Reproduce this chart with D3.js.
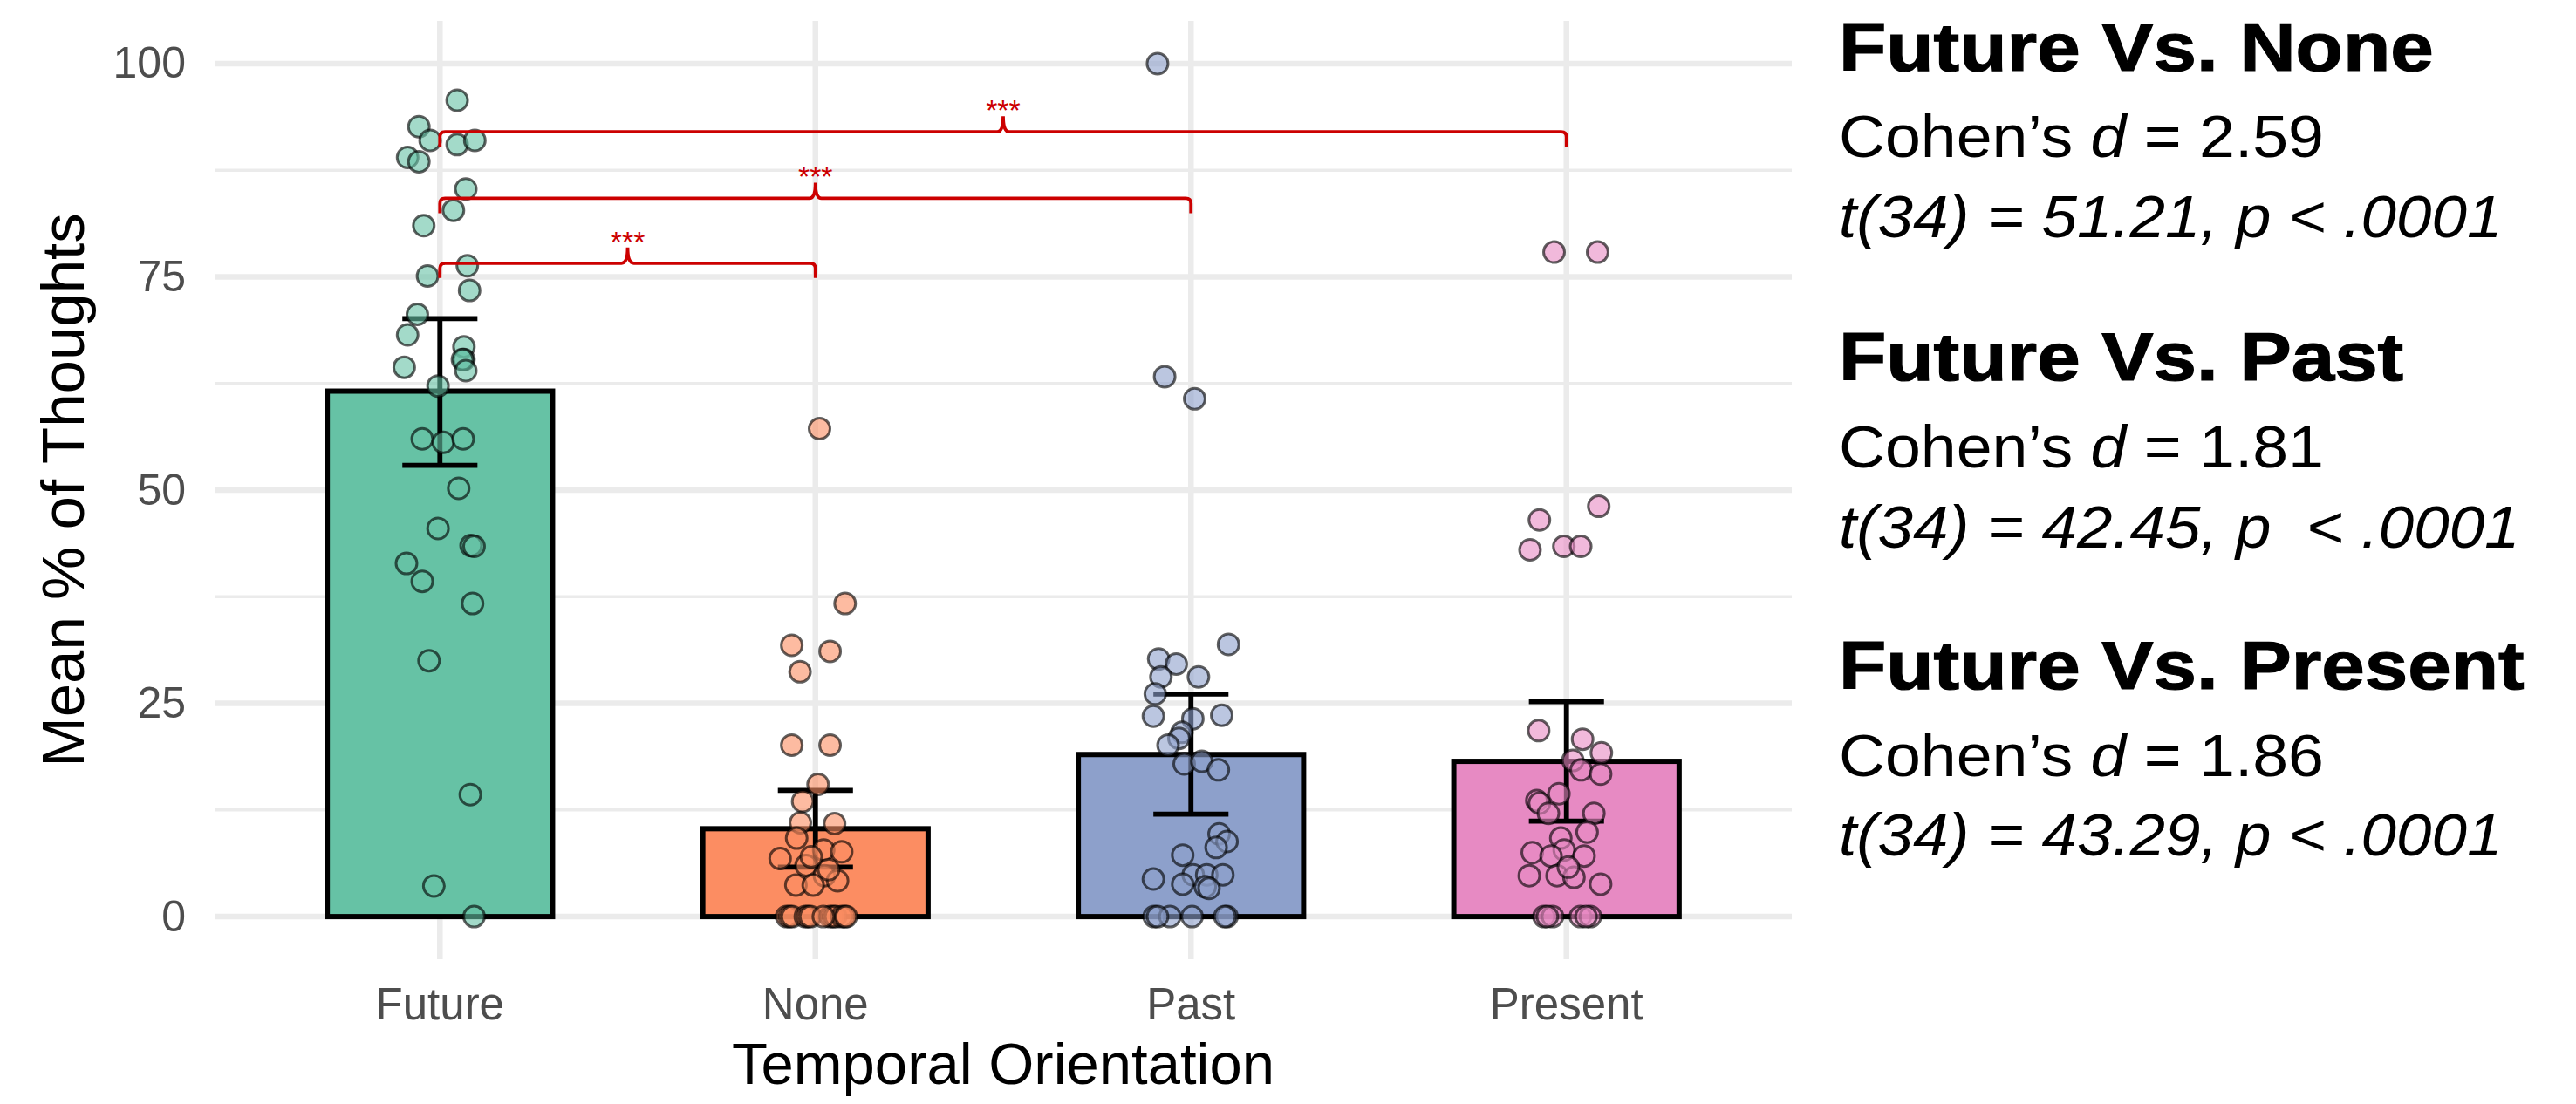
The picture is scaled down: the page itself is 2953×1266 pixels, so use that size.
<!DOCTYPE html>
<html>
<head>
<meta charset="utf-8">
<script src="https://cdn.jsdelivr.net/npm/d3@7"></script>
<style>
  body { margin: 0; background: #fff; }
  svg { display: block; font-family: "Liberation Sans", Arial, sans-serif; }
</style>
</head>
<body>
<div id="chart"></div>
<script>
// categories and summary values
const categories = ["Future", "None", "Past", "Present"];
const barColors = ["#66C2A5", "#FC8D62", "#8DA0CB", "#E78AC3"];
const meanPct = [61.6, 10.3, 19.0, 18.2];
const ciLow = [52.9, 5.8, 12.0, 11.2];
const ciHigh = [70.1, 14.8, 26.1, 25.2];

// individual participants (value, horizontal jitter in category units)
const futureVals = [95.7, 92.6, 91.0, 90.5, 91.0, 89.0, 88.5, 85.3, 82.8, 81.0, 76.3, 75.1, 73.4, 70.6, 68.2, 66.8, 65.3, 65.3, 64.0, 64.4, 62.2, 56.0, 55.6, 56.0, 50.2, 45.5, 43.5, 43.4, 41.4, 39.3, 36.7, 30.0, 14.3, 3.6, 0.0];
const futureJit = [0.046, -0.056, -0.026, 0.046, 0.093, -0.086, -0.056, 0.069, 0.036, -0.043, 0.073, -0.033, 0.079, -0.060, -0.086, 0.064, 0.064, 0.060, 0.069, -0.095, -0.005, -0.047, 0.009, 0.062, 0.050, -0.005, 0.083, 0.091, -0.089, -0.047, 0.087, -0.029, 0.081, -0.016, 0.091];
const noneVals = [57.2, 36.7, 31.8, 31.1, 28.7, 20.1, 20.1, 15.5, 13.5, 11.0, 10.9, 9.2, 7.8, 7.6, 6.8, 6.0, 4.8, 3.7, 3.7, 4.2, 5.5, 7.0, 0, 0, 0, 0, 0, 0, 0, 0, 0, 0, 0, 0, 0];
const noneJit = [0.011, 0.079, -0.063, 0.039, -0.041, -0.063, 0.039, 0.007, -0.034, -0.040, 0.051, -0.050, 0.022, 0.070, -0.094, -0.025, 0.024, -0.052, -0.006, 0.059, 0.035, -0.011, -0.077, -0.069, -0.062, -0.027, -0.020, -0.013, 0.039, 0.047, 0.054, 0.070, 0.078, 0.082, 0.021];
const pastVals = [100.0, 63.3, 60.7, 31.9, 30.2, 29.6, 28.1, 28.1, 26.1, 23.5, 23.2, 23.6, 21.6, 20.9, 20.1, 17.9, 18.2, 17.2, 9.7, 8.8, 8.1, 7.2, 4.9, 4.9, 4.9, 4.4, 3.8, 3.5, 3.3, 0, 0, 0, 0, 0, 0];
const pastJit = [-0.089, -0.070, 0.010, 0.100, -0.086, -0.039, -0.080, 0.020, -0.095, -0.100, 0.005, 0.082, -0.024, -0.032, -0.061, -0.018, 0.029, 0.073, 0.075, 0.096, 0.067, -0.022, 0.006, 0.042, 0.085, -0.100, -0.022, 0.038, 0.048, -0.098, -0.056, 0.003, 0.096, -0.089, 0.090];
const presentVals = [77.9, 77.9, 46.5, 48.1, 43.0, 43.4, 43.4, 21.8, 20.8, 19.2, 18.3, 17.2, 16.7, 14.4, 13.6, 13.3, 12.1, 12.1, 9.9, 9.2, 7.5, 7.8, 7.1, 7.1, 4.8, 4.8, 4.6, 3.8, 5.8, 0, 0, 0, 0, 0, 0];
const presentJit = [-0.033, 0.083, -0.072, 0.086, -0.097, -0.007, 0.038, -0.074, 0.043, 0.093, 0.017, 0.039, 0.091, -0.020, -0.079, -0.072, -0.048, 0.073, 0.055, -0.015, -0.091, -0.006, 0.047, -0.041, -0.099, -0.025, 0.020, 0.091, 0.005, -0.060, -0.037, 0.037, 0.064, -0.051, 0.052];

// significance brackets
const bracketTo = ["None", "Past", "Present"];
const bracketY = [76.6, 84.2, 92.0];
const bracketLabel = ["***", "***", "***"];

// axis ticks
const yMajor = [0, 25, 50, 75, 100];
const yMinor = [12.5, 37.5, 62.5, 87.5];

// side annotations
const comparisons = ["Future Vs. None", "Future Vs. Past", "Future Vs. Present"];
const cohenD = ["2.59", "1.81", "1.86"];
const tStats = ["t(34) = 51.21, p < .0001", "t(34) = 42.45, p  < .0001", "t(34) = 43.29, p < .0001"];

const width = 2953, height = 1266;
const panel = { left: 246, right: 2054, top: 24, bottom: 1100 };

const svg = d3.select("#chart").append("svg")
  .attr("width", width)
  .attr("height", height);

svg.append("rect").attr("width", width).attr("height", height).attr("fill", "#fff");

const x = d3.scaleBand()
  .domain(categories)
  .range([panel.left, panel.right])
  .paddingInner(0.4)
  .paddingOuter(0.3);
const cx = c => x(c) + x.bandwidth() / 2;

const y = d3.scaleLinear()
  .domain([-5, 105])
  .range([panel.bottom, panel.top]);

// grid
const grid = svg.append("g").attr("stroke", "#EBEBEB");
grid.selectAll(".minor").data(yMinor).join("line")
  .attr("x1", panel.left).attr("x2", panel.right)
  .attr("y1", d => y(d)).attr("y2", d => y(d))
  .attr("stroke-width", 3.5);
grid.selectAll(".major").data(yMajor).join("line")
  .attr("x1", panel.left).attr("x2", panel.right)
  .attr("y1", d => y(d)).attr("y2", d => y(d))
  .attr("stroke-width", 6.5);
grid.selectAll(".vert").data(categories).join("line")
  .attr("x1", d => cx(d)).attr("x2", d => cx(d))
  .attr("y1", panel.top).attr("y2", panel.bottom)
  .attr("stroke-width", 6.5);

// bars
svg.append("g").selectAll("rect").data(categories).join("rect")
  .attr("x", d => x(d))
  .attr("y", (d, i) => y(meanPct[i]))
  .attr("width", x.bandwidth())
  .attr("height", (d, i) => y(0) - y(meanPct[i]))
  .attr("fill", (d, i) => barColors[i])
  .attr("stroke", "#000")
  .attr("stroke-width", 6);

// error bars
const capW = x.step() * 0.1;
const eb = svg.append("g").attr("stroke", "#000").attr("stroke-width", 5.8).attr("fill", "none");
categories.forEach((c, i) => {
  const xc = cx(c);
  eb.append("line").attr("x1", xc).attr("x2", xc).attr("y1", y(ciLow[i])).attr("y2", y(ciHigh[i]));
  eb.append("line").attr("x1", xc - capW).attr("x2", xc + capW).attr("y1", y(ciLow[i])).attr("y2", y(ciLow[i]));
  eb.append("line").attr("x1", xc - capW).attr("x2", xc + capW).attr("y1", y(ciHigh[i])).attr("y2", y(ciHigh[i]));
});

// jittered points
const groups = [[futureVals, futureJit], [noneVals, noneJit], [pastVals, pastJit], [presentVals, presentJit]];
const points = [];
groups.forEach(([vals, jit], i) => {
  vals.forEach((v, k) => points.push({ cat: categories[i], color: barColors[i], v: v, j: jit[k] }));
});
svg.append("g").selectAll("circle").data(points).join("circle")
  .attr("cx", d => cx(d.cat) + d.j * x.step())
  .attr("cy", d => y(d.v))
  .attr("r", 12)
  .attr("fill", d => d.color)
  .attr("fill-opacity", 0.6)
  .attr("stroke", "#000")
  .attr("stroke-opacity", 0.62)
  .attr("stroke-width", 3);

// brackets
const red = "#CC0000";
const br = svg.append("g");
bracketTo.forEach((c, i) => {
  const x1 = cx("Future"), x2 = cx(c), xm = (x1 + x2) / 2, yl = y(bracketY[i]);
  const drop = 17, r = 6, notch = 18, nw = 7;
  const p = d3.path();
  p.moveTo(x1, yl + drop);
  p.lineTo(x1, yl + r);
  p.quadraticCurveTo(x1, yl, x1 + r, yl);
  p.lineTo(xm - nw, yl);
  p.quadraticCurveTo(xm, yl, xm, yl - notch);
  p.quadraticCurveTo(xm, yl, xm + nw, yl);
  p.lineTo(x2 - r, yl);
  p.quadraticCurveTo(x2, yl, x2, yl + r);
  p.lineTo(x2, yl + drop);
  br.append("path").attr("d", p.toString())
    .attr("fill", "none").attr("stroke", red).attr("stroke-width", 3.8);
  br.append("text")
    .attr("x", xm).attr("y", yl - 13)
    .attr("text-anchor", "middle")
    .attr("fill", red)
    .style("font-size", "34px")
    .text(bracketLabel[i]);
});

// axes
const yAxis = svg.append("g")
  .attr("transform", `translate(${panel.left},0)`)
  .call(d3.axisLeft(y).tickValues(yMajor).tickSize(0).tickPadding(33));
yAxis.select(".domain").remove();
yAxis.selectAll("text")
  .attr("fill", "#4D4D4D")
  .style("font-size", "50px")
  .style("font-family", "'Liberation Sans', Arial, sans-serif");

const xAxis = svg.append("g")
  .attr("transform", `translate(0,${panel.bottom})`)
  .call(d3.axisBottom(x).tickSize(0).tickPadding(33));
xAxis.select(".domain").remove();
xAxis.selectAll("text")
  .attr("fill", "#4D4D4D")
  .style("font-size", "51px")
  .style("font-family", "'Liberation Sans', Arial, sans-serif");

svg.append("text")
  .attr("x", (panel.left + panel.right) / 2)
  .attr("y", 1243)
  .attr("text-anchor", "middle")
  .style("font-size", "67px")
  .text("Temporal Orientation");

svg.append("text")
  .attr("transform", `translate(96,${(panel.top + panel.bottom) / 2}) rotate(-90)`)
  .attr("text-anchor", "middle")
  .style("font-size", "69px")
  .text("Mean % of Thoughts");

// side annotations
const sideX = 2108;
const headBase = [81, 436, 790];
const dBase = [180, 536, 890];
const tBase = [272, 628, 981];
comparisons.forEach((c, i) => {
  svg.append("text")
    .attr("transform", `translate(${sideX},${headBase[i]}) scale(1.14,1)`)
    .style("font-size", "78px")
    .style("font-weight", "bold")
    .attr("stroke", "#000").attr("stroke-width", 1.2)
    .text(c);

  const dt = svg.append("text")
    .attr("transform", `translate(${sideX},${dBase[i]}) scale(1.08,1)`)
    .style("font-size", "68px")
    .style("white-space", "pre");
  dt.append("tspan").text("Cohen\u2019s ");
  dt.append("tspan").style("font-style", "italic").text("d");
  dt.append("tspan").text(" = " + cohenD[i]);

  svg.append("text")
    .attr("transform", `translate(${sideX},${tBase[i]}) scale(1.07,1)`)
    .style("font-size", "68px")
    .style("font-style", "italic")
    .style("white-space", "pre")
    .text(tStats[i]);
});
</script>
</body>
</html>
